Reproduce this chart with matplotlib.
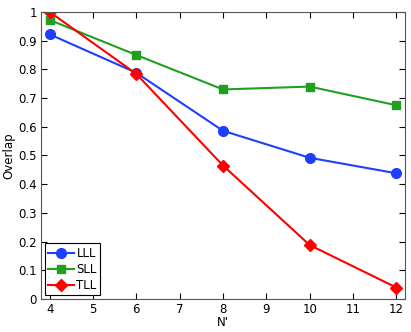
import matplotlib
matplotlib.use('Agg')
import matplotlib.pyplot as plt

n_prime = [4, 6, 8, 10, 12]
lll = [0.922, 0.788, 0.586, 0.492, 0.438]
sll = [0.972, 0.850, 0.730, 0.740, 0.675]
tll = [1.0, 0.784, 0.465, 0.188, 0.040]
xticks = [4, 5, 6, 7, 8, 9, 10, 11, 12]
yticks = [0, 0.1, 0.2, 0.3, 0.4, 0.5, 0.6, 0.7, 0.8, 0.9, 1]
yticklabels = ['0', '0.1', '0.2', '0.3', '0.4', '0.5', '0.6', '0.7', '0.8', '0.9', '1']

plt.rcParams['font.family'] = ['DejaVu Sans']
plt.rcParams['font.size'] = 8.5

fig = plt.figure(figsize=(4.11, 3.32), dpi=100)
ax = fig.add_axes([0.0998, 0.0994, 0.8855, 0.8646])

ax.plot(n_prime, lll, '-o', color='#1f3fff', lw=1.5, ms=7, label='LLL')
ax.plot(n_prime, sll, '-s', color='#1fa01f', lw=1.5, ms=6, label='SLL')
ax.plot(n_prime, tll, '-D', color='#ff0000', lw=1.5, ms=6, label='TLL')

ax.set_xlim(3.8, 12.2)
ax.set_ylim(0, 1)
ax.set_xticks(xticks)
ax.set_yticks(yticks)
ax.set_yticklabels(yticklabels)
ax.tick_params(direction='in', top=True, right=True, length=4, pad=3)
for s in ax.spines.values():
    s.set_color('#555555')
ax.set_xlabel("N'", labelpad=0)
ax.set_ylabel('Overlap', labelpad=2)

leg = ax.legend(loc='lower left', fancybox=False, edgecolor='black',
                borderpad=0.3, handlelength=2.2, handletextpad=0.2,
                labelspacing=0.25, borderaxespad=0.3, framealpha=1)
leg.get_frame().set_linewidth(0.8)

fig.savefig('out.png', dpi=100)
